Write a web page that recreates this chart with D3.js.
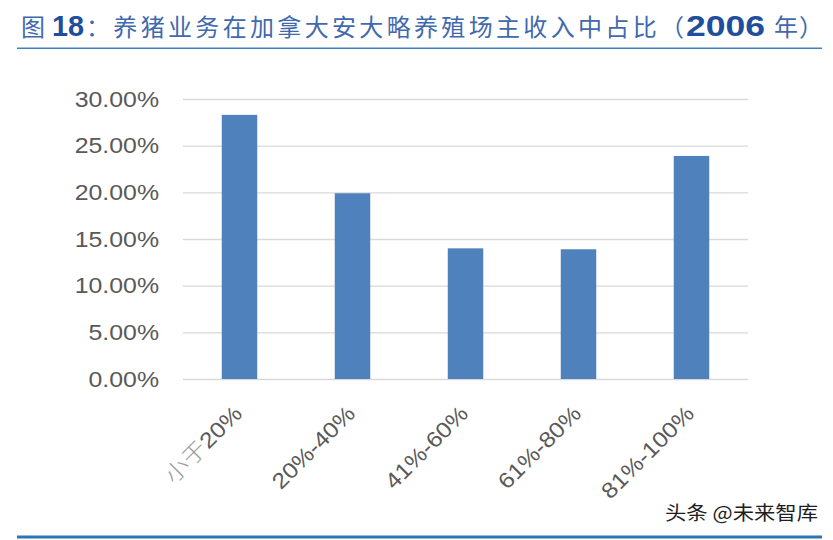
<!DOCTYPE html>
<html lang="zh-cn">
  <head>
    <title>养猪业务在加拿大安大略养殖场主收入中占比</title>
    <meta charset="utf-8">
    <script src="https://d3js.org/d3.v7.min.js"></script>
    <style>
      body { margin: 0; background: #fff; }
      svg { display: block; }
    </style>
  </head>
  <body>
    <div id="grafico"></div>
    <script type="text/javascript">

      const categorias = ['小于20%', '20%-40%', '41%-60%', '61%-80%', '81%-100%']
      const participacao = [0.283, 0.199, 0.140, 0.139, 0.239]
      const ticksY = [0, 0.05, 0.10, 0.15, 0.20, 0.25, 0.30]

      const largura = 833,
            altura = 540,
            area = { esquerda: 183, direita: 748, topo: 99, base: 379 }

      const fonteLatina = '"Liberation Sans", Arial, "Noto Sans CJK SC", sans-serif'
      const fonteCJK = '"Noto Sans CJK SC", "Liberation Sans", sans-serif'

      // o original tem o texto um pouco alargado na horizontal
      const alargar = (sel, fator) => sel.each(function () {
        const w = this.getComputedTextLength()
        d3.select(this)
          .attr('textLength', w * fator)
          .attr('lengthAdjust', 'spacingAndGlyphs')
      })

      const tela = d3.select('#grafico')
        .append('svg')
          .attr('width', largura)
          .attr('height', altura)

      tela.append('rect')
        .attr('width', largura)
        .attr('height', altura)
        .attr('fill', '#fff')

      // titulo
      const titulo = tela.append('text')
        .attr('y', 36)
        .attr('fill', '#4169ad')
        .style('font-family', fonteCJK)
        .style('font-size', '24px')

      titulo.append('tspan').attr('x', 21).text('图')
      titulo.append('tspan').attr('x', 52)
        .attr('fill', '#1f4f9c')
        .style('font-family', fonteLatina)
        .style('font-weight', 'bold')
        .style('font-size', '29px')
        .attr('textLength', 32)
        .attr('lengthAdjust', 'spacingAndGlyphs')
        .text('18')
      titulo.append('tspan').attr('x', 86)
        .attr('textLength', 598)
        .attr('lengthAdjust', 'spacing')
        .text('：养猪业务在加拿大安大略养殖场主收入中占比（')
      titulo.append('tspan').attr('x', 686)
        .attr('fill', '#1f4f9c')
        .style('font-family', fonteLatina)
        .style('font-weight', 'bold')
        .style('font-size', '29px')
        .attr('textLength', 79)
        .attr('lengthAdjust', 'spacingAndGlyphs')
        .text('2006')
      titulo.append('tspan').attr('x', 774).text('年')
      titulo.append('tspan').attr('x', 799).text('）')

      tela.append('line')
        .attr('x1', 17).attr('x2', 822)
        .attr('y1', 48.3).attr('y2', 48.3)
        .attr('stroke', '#3d80c2')
        .attr('stroke-width', 1.5)

      // escalas
      const x = d3.scaleBand()
        .domain(categorias)
        .range([area.esquerda, area.direita])
        .paddingInner(0.686)
        .paddingOuter(0.343)

      const y = d3.scaleLinear()
        .domain([0, 0.30])
        .range([area.base, area.topo])

      // eixo y com linhas de grade
      const eixoY = tela.append('g')
        .attr('transform', `translate(${area.esquerda}, 0)`)
        .call(d3.axisLeft(y)
          .tickValues(ticksY)
          .tickFormat(d3.format('.2%'))
          .tickSize(-(area.direita - area.esquerda))
          .tickPadding(24))

      eixoY.select('.domain').remove()
      eixoY.selectAll('.tick line')
        .attr('stroke', '#d9d9d9')
        .attr('stroke-width', 1.3)
      eixoY.selectAll('.tick text')
        .attr('fill', '#595959')
        .style('font-family', fonteLatina)
        .style('font-size', '22px')
        .call(alargar, 1.13)

      // barras
      tela.append('g')
        .selectAll('rect')
        .data(participacao)
        .join('rect')
          .attr('x', (d, i) => x(categorias[i]))
          .attr('y', d => y(d))
          .attr('width', x.bandwidth())
          .attr('height', d => y(0) - y(d))
          .attr('fill', '#4f81bd')

      // eixo x com rotulos inclinados
      const eixoX = tela.append('g')
        .attr('transform', `translate(0, ${area.base})`)
        .call(d3.axisBottom(x).tickSize(0).tickFormat(''))

      eixoX.select('.domain').remove()

      const rotulos = tela.append('g')
        .selectAll('text')
        .data(categorias)
        .join('text')
          .attr('transform', d => `translate(${x(d) + x.bandwidth() / 2 + 4}, 415) rotate(-45)`)
          .attr('text-anchor', 'end')
          .attr('fill', '#595959')
          .style('font-family', fonteLatina)
          .style('font-size', '22px')

      rotulos.each(function (d) {
        const rotulo = d3.select(this)
        const partes = d.match(/^([^\x00-\x7f]*)(.*)$/)
        if (partes[1]) {
          rotulo.append('tspan')
            .attr('fill', '#9a9a9a')
            .style('font-family', fonteCJK)
            .style('font-weight', '300')
            .text(partes[1])
        }
        rotulo.append('tspan').text(partes[2])
      })
      rotulos.call(alargar, 1.12)

      // marca d'agua e linha de rodape
      tela.append('text')
        .attr('x', 665)
        .attr('y', 520)
        .attr('fill', '#1e1e1e')
        .style('font-family', fonteCJK)
        .style('font-size', '19px')
        .text('头条 @未来智库')
        .attr('textLength', 153)
        .attr('lengthAdjust', 'spacingAndGlyphs')

      tela.append('line')
        .attr('x1', 17).attr('x2', 822)
        .attr('y1', 537).attr('y2', 537)
        .attr('stroke', '#2e75b6')
        .attr('stroke-width', 3)

    </script>
  </body>
</html>
